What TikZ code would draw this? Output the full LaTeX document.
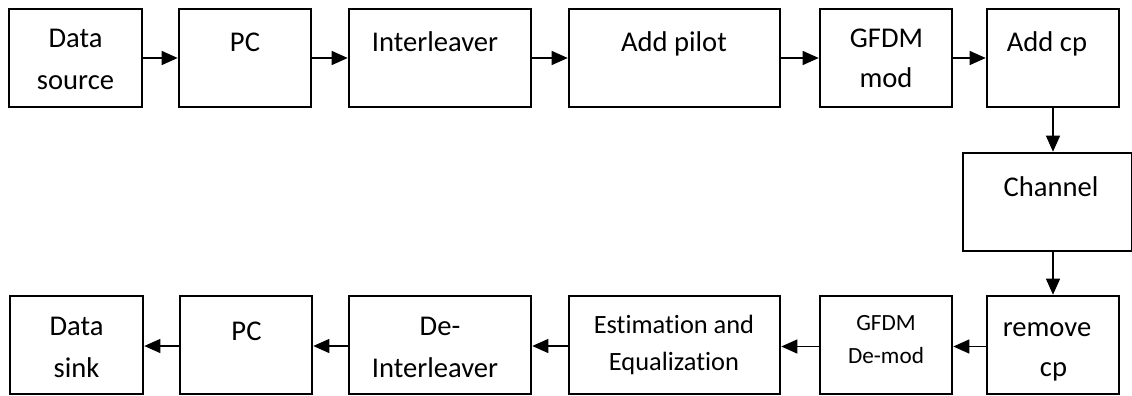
\documentclass[tikz,border=0pt]{standalone}
\usepackage{fontspec}
\setmainfont{Carlito}[Ligatures=NoCommon]
\usetikzlibrary{arrows.meta}
\begin{document}
\begin{tikzpicture}[x=1pt,y=-1pt,
  blk/.style={draw=black, line width=2.6pt, rectangle, inner sep=0pt},
  txt/.style={anchor=base, inner sep=0pt, font=\fontsize{28.6}{34}\selectfont},
  stxt/.style={anchor=base, inner sep=0pt, font=\fontsize{26.4}{31}\selectfont},
  xstxt/.style={anchor=base, inner sep=0pt, font=\fontsize{23.2}{28}\selectfont},
  flow/.style={draw=black, line width=1.3pt, -{Triangle[length=16pt,width=14pt]}}]
\useasboundingbox (0,0) rectangle (1132,396);
% top row boxes
\node[blk, minimum width=133pt, minimum height=98pt] (src) at (75.5,58) {};
\node[blk, minimum width=132pt, minimum height=98pt] (pc1) at (245,58) {};
\node[blk, minimum width=182pt, minimum height=98pt] (il) at (440,58) {};
\node[blk, minimum width=211pt, minimum height=98pt] (pil) at (674.5,58) {};
\node[blk, minimum width=132pt, minimum height=98pt] (mod) at (886,58) {};
\node[blk, minimum width=132pt, minimum height=98pt] (acp) at (1053,58) {};
% channel
\node[blk, minimum width=169pt, minimum height=98pt] (ch) at (1047.5,202) {};
% bottom row boxes
\node[blk, minimum width=132pt, minimum height=98pt] (rcp) at (1053,345) {};
\node[blk, minimum width=132pt, minimum height=98pt] (dmod) at (886,345) {};
\node[blk, minimum width=211pt, minimum height=98pt] (est) at (674.5,345) {};
\node[blk, minimum width=182pt, minimum height=98pt] (dil) at (440,345) {};
\node[blk, minimum width=132pt, minimum height=98pt] (pc2) at (246,345) {};
\node[blk, minimum width=133pt, minimum height=98pt] (snk) at (76.5,345) {};
% texts top
\node[txt] (tsrc1) at (75.5,48) {Data};
\node[txt] (tsrc2) at (75.5,89) {source};
\node[txt] (tpc1) at (245,52) {PC};
\node[txt] (til) at (435,52) {Interleaver};
\node[txt] (tpil) at (674,52) {Add pilot};
\node[txt] (tmod1) at (886.5,48) {GFDM};
\node[txt] (tmod2) at (886,88) {mod};
\node[txt] (tacp) at (1047,52) {Add cp};
\node[txt] (tch) at (1051,196) {Channel};
% texts bottom
\node[txt] (trcp1) at (1047,336) {remove};
\node[txt] (trcp2) at (1053.5,376) {cp};
\node[xstxt] (tdmod1) at (886,330) {GFDM};
\node[xstxt] (tdmod2) at (886,363) {De-mod};
\node[stxt] (test1) at (674,333) {Estimation and};
\node[stxt] (test2) at (674,370) {Equalization};
\node[txt] (tdil1) at (440,335) {De-};
\node[txt] (tdil2) at (435,377) {Interleaver};
\node[txt] (tpc2) at (246.5,340) {PC};
\node[txt] (tsnk1) at (76.5,335) {Data};
\node[txt] (tsnk2) at (76.5,377) {sink};
% connectors
\draw[flow] (src.east) -- (pc1.west);
\draw[flow] (pc1.east) -- (il.west);
\draw[flow] (il.east) -- (pil.west);
\draw[flow] (pil.east) -- (mod.west);
\draw[flow] (mod.east) -- (acp.west);
\draw[flow] (acp.south) -- (acp.south |- ch.north);
\draw[flow] (ch.south -| rcp.north) -- (rcp.north);
\draw[flow] ([yshift=-1.5pt]rcp.west) -- ([yshift=-1.5pt]dmod.east);
\draw[flow] ([yshift=-1.5pt]dmod.west) -- ([yshift=-1.5pt]est.east);
\draw[flow] ([yshift=-1pt]est.west) -- ([yshift=-1pt]dil.east);
\draw[flow] ([yshift=-1pt]dil.west) -- ([yshift=-1pt]pc2.east);
\draw[flow] ([yshift=-1pt]pc2.west) -- ([yshift=-1pt]snk.east);
\end{tikzpicture}
\end{document}
